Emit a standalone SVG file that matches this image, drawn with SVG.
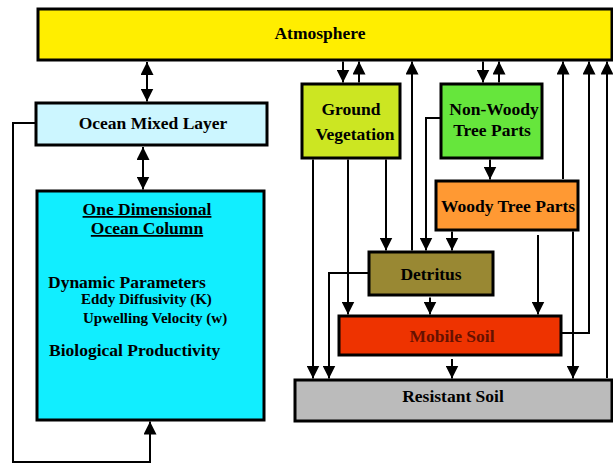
<svg xmlns="http://www.w3.org/2000/svg" width="613" height="470" viewBox="0 0 613 470">
<defs>
<marker id="ah" viewBox="0 0 12 13" refX="13" refY="6.5" markerWidth="12" markerHeight="13" markerUnits="userSpaceOnUse" orient="auto-start-reverse">
<path d="M0,0 L13,6.5 L0,13 z" fill="#000"/>
</marker>
<style>
.box{stroke:#000;stroke-width:3}
.t{font-family:"Liberation Serif","Times New Roman",serif;font-weight:bold;font-size:17.5px;fill:#000;text-anchor:middle}
.s{font-family:"Liberation Serif","Times New Roman",serif;font-weight:bold;fill:#000}
.c{fill:none;stroke:#000;stroke-width:2}
.a{marker-end:url(#ah)}
.d{marker-start:url(#ah);marker-end:url(#ah)}
</style>
</defs>
<rect width="613" height="470" fill="#fff"/>
<g id="connectors">
<line class="c d" x1="147" y1="62" x2="147" y2="101.5" stroke-width="3"/>
<line class="c d" x1="143" y1="147" x2="143" y2="189.5" stroke-width="3"/>
<polyline class="c a" points="36,123 13,123 13,462 150,462 150,421.5"/>
<line class="c a" x1="343" y1="61.5" x2="343" y2="82.5"/>
<line class="c a" x1="359" y1="82.5" x2="359" y2="61.5"/>
<line class="c a" x1="412" y1="250.5" x2="412" y2="61.5"/>
<line class="c a" x1="483" y1="61.5" x2="483" y2="82.5"/>
<line class="c a" x1="499" y1="82.5" x2="499" y2="61.5"/>
<line class="c a" x1="563" y1="179" x2="563" y2="61.5"/>
<polyline class="c a" points="562,333 589,333 589,61.5"/>
<line class="c a" x1="607" y1="378" x2="607" y2="61.5"/>
<line class="c a" x1="490" y1="159.5" x2="490" y2="179.5"/>
<line class="c a" x1="452" y1="231.5" x2="452" y2="250.5"/>
<line class="c a" x1="538" y1="235" x2="538" y2="314.5"/>
<line class="c a" x1="573" y1="231.5" x2="573" y2="378.5"/>
<polyline class="c a" points="441,118 426,118 426,250.5"/>
<line class="c a" x1="386" y1="159.5" x2="386" y2="250.5"/>
<line class="c a" x1="348" y1="159.5" x2="348" y2="314.5"/>
<line class="c a" x1="313" y1="159.5" x2="313" y2="378.5"/>
<polyline class="c a" points="369,273 329,273 329,378.5"/>
<line class="c a" x1="430" y1="297.5" x2="430" y2="314.5"/>
<line class="c a" x1="452" y1="359" x2="452" y2="378.5"/>
</g>
<g id="atmosphere">
<rect class="box" x="38" y="9" width="574" height="51" fill="#FFEE00"/>
<text class="t" x="320" y="39">Atmosphere</text>
</g>
<g id="ocean-mixed-layer">
<rect class="box" x="36" y="103" width="231" height="42" fill="#CCF6FF"/>
<text class="t" x="153" y="129">Ocean Mixed Layer</text>
</g>
<g id="ocean-column">
<rect class="box" x="37" y="191" width="227" height="229" fill="#11EEFF"/>
<text class="t" x="147" y="215" text-decoration="underline">One Dimensional</text>
<text class="t" x="147" y="234" text-decoration="underline">Ocean Column</text>
<text class="s" x="48" y="288" font-size="17.5">Dynamic Parameters</text>
<text class="s" x="81" y="304" font-size="15">Eddy Diffusivity (K)</text>
<text class="s" x="83" y="323" font-size="15">Upwelling Velocity (w)</text>
<text class="s" x="49" y="356" font-size="17.5">Biological Productivity</text>
</g>
<g id="ground-vegetation">
<rect class="box" x="302" y="84" width="98" height="74" fill="#CCE622"/>
<text class="t" x="351" y="115">Ground</text>
<text class="t" x="355" y="140">Vegetation</text>
</g>
<g id="non-woody">
<rect class="box" x="441" y="84" width="101" height="74" fill="#66E63C"/>
<text class="t" x="494" y="115">Non-Woody</text>
<text class="t" x="492" y="136">Tree Parts</text>
</g>
<g id="woody">
<rect class="box" x="436" y="181" width="142" height="49" fill="#FF9933"/>
<text class="t" x="508" y="212">Woody Tree Parts</text>
</g>
<g id="detritus">
<rect class="box" x="369" y="252" width="124" height="43" fill="#998833"/>
<text class="t" x="431" y="280">Detritus</text>
</g>
<g id="mobile-soil">
<rect class="box" x="339" y="316" width="222" height="39" fill="#EE3300"/>
<text class="t" x="452" y="342" style="fill:#661100">Mobile Soil</text>
</g>
<g id="resistant-soil">
<rect class="box" x="295" y="380" width="317" height="41" fill="#BBBBBB"/>
<text class="t" x="453" y="402">Resistant Soil</text>
</g>
</svg>
